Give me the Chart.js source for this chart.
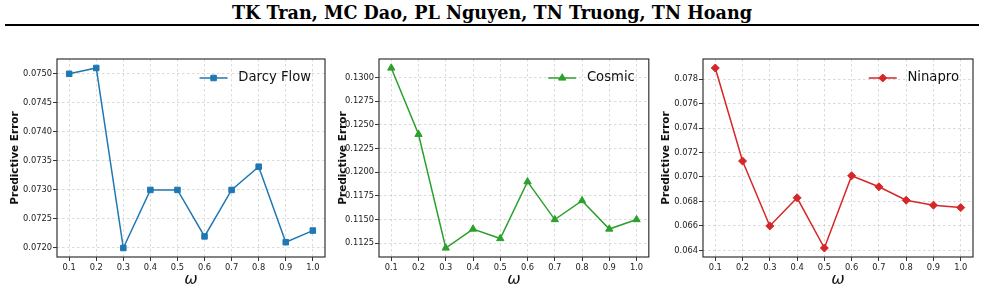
<!DOCTYPE html>
<html>
<head>
<meta charset="utf-8">
<script src="https://cdn.jsdelivr.net/npm/chart.js@4.4.1/dist/chart.umd.min.js"></script>
<style>
  body { margin: 0; width: 984px; height: 291px; background: #fff; position: relative; overflow: hidden; }
  #header { position: absolute; left: 0; top: 2px; width: 984px; text-align: center; font: bold 17.6px "DejaVu Serif"; color: #000; }
  #rule { position: absolute; left: 5px; top: 24px; width: 974px; height: 1.5px; background: #000; }
  canvas { position: absolute; top: 30px; }
</style>
</head>
<body>
<div id="header">TK Tran, MC Dao, PL Nguyen, TN Truong, TN Hoang</div>
<div id="rule"></div>
<canvas id="darcy" width="330" height="261" style="left:0px"></canvas>
<canvas id="cosmic" width="324" height="261" style="left:330px"></canvas>
<canvas id="ninapro" width="330" height="261" style="left:654px"></canvas>
<script>
// Data
const omega = [0.1, 0.2, 0.3, 0.4, 0.5, 0.6, 0.7, 0.8, 0.9, 1.0];
const darcyFlow = [0.0750, 0.0751, 0.0720, 0.0730, 0.0730, 0.0722, 0.0730, 0.0734, 0.0721, 0.0723];
const cosmic = [0.1310, 0.1240, 0.1120, 0.1140, 0.1130, 0.1190, 0.1150, 0.1170, 0.1140, 0.1150];
const ninapro = [0.0789, 0.0713, 0.0660, 0.0683, 0.0642, 0.0701, 0.0692, 0.0681, 0.0677, 0.0675];
const darcyTicks = [0.0720, 0.0725, 0.0730, 0.0735, 0.0740, 0.0745, 0.0750];
const cosmicTicks = [0.1125, 0.1150, 0.1175, 0.1200, 0.1225, 0.1250, 0.1275, 0.1300];
const ninaproTicks = [0.064, 0.066, 0.068, 0.070, 0.072, 0.074, 0.076, 0.078];

const gridColor = "rgba(176, 176, 176, 0.6)";
const inkColor = "#222";

// box round the plot, like matplotlib spines
const frame = {
  id: "frame",
  afterDraw(chart) {
    const { ctx, chartArea: a } = chart;
    ctx.save();
    ctx.strokeStyle = "#333";
    ctx.lineWidth = 1.2;
    ctx.strokeRect(a.left, a.top, a.right - a.left, a.bottom - a.top);
    ctx.restore();
  },
};

// legend in the upper right of the plot: line + marker, then the label
const insideLegend = {
  id: "insideLegend",
  afterDraw(chart) {
    const { ctx, chartArea: a } = chart;
    const ds = chart.data.datasets[0];
    ctx.save();
    ctx.font = '13.2px "DejaVu Sans"';
    const textRight = a.right - 14;
    const textLeft = textRight - ctx.measureText(ds.label).width;
    const cy = a.top + 19;
    const lineRight = textLeft - 10.7;
    const lineLeft = lineRight - 28;
    ctx.strokeStyle = ds.borderColor;
    ctx.fillStyle = ds.borderColor;
    ctx.lineWidth = ds.borderWidth;
    ctx.beginPath();
    ctx.moveTo(lineLeft, cy);
    ctx.lineTo(lineRight, cy);
    ctx.stroke();
    ctx.lineWidth = 1;
    Chart.helpers.drawPoint(ctx, { pointStyle: ds.pointStyle, radius: ds.pointRadius, rotation: 0, borderWidth: 1 }, (lineLeft + lineRight) / 2, cy);
    ctx.fillStyle = "#111";
    ctx.textAlign = "left";
    ctx.textBaseline = "middle";
    ctx.fillText(ds.label, textLeft, cy);
    ctx.restore();
  },
};

function padRange(values) {
  const lo = Math.min(...values);
  const hi = Math.max(...values);
  const m = (hi - lo) * 0.05;
  return [lo - m, hi + m];
}

function makeChart(id, label, values, color, style, radius, yTicks, decimals, yWidth, yTitlePad, rightPad) {
  const [xMin, xMax] = padRange(omega);
  const [yMin, yMax] = padRange(values);
  const config = {
    type: "line",
    data: {
      datasets: [
        {
          label: label,
          data: omega.map((w, i) => ({ x: w, y: values[i] })),
          borderColor: color,
          backgroundColor: color,
          borderWidth: 1.5,
          pointStyle: style,
          pointRadius: radius,
          pointBorderWidth: 1,
          pointBackgroundColor: color,
          pointBorderColor: color,
          tension: 0,
        },
      ],
    },
    options: {
      responsive: false,
      animation: false,
      events: [],
      layout: { padding: { top: 29, right: rightPad, left: 0, bottom: 0 } },
      scales: {
        x: {
          type: "linear",
          min: xMin,
          max: xMax,
          afterBuildTicks: (s) => { s.ticks = omega.map((v) => ({ value: v })); },
          afterFit: (s) => { s.height = 34; },
          ticks: {
            callback: (v) => v.toFixed(1),
            font: { family: "DejaVu Sans", size: 8.3 },
            color: inkColor,
            padding: 2,
            maxRotation: 0,
          },
          grid: { color: gridColor, lineWidth: 0.8, tickColor: "#333", tickLength: 4, tickWidth: 1, tickBorderDash: [] },
          border: { display: false, dash: [2.5, 2.5] },
          title: {
            display: true,
            text: "ω",
            font: { family: "DejaVu Sans", size: 16, style: "italic" },
            color: "#111",
            padding: { top: 0, bottom: 1.4 },
          },
        },
        y: {
          min: yMin,
          max: yMax,
          afterBuildTicks: (s) => { s.ticks = yTicks.map((v) => ({ value: v })); },
          afterFit: (s) => { s.width = yWidth; },
          ticks: {
            callback: (v) => v.toFixed(decimals),
            font: { family: "DejaVu Sans", size: 8.3 },
            color: inkColor,
            padding: 1,
          },
          grid: { color: gridColor, lineWidth: 0.8, tickColor: "#333", tickLength: 4, tickWidth: 1, tickBorderDash: [] },
          border: { display: false, dash: [2.5, 2.5] },
          title: {
            display: true,
            text: "Predictive Error",
            font: { family: "DejaVu Sans", size: 10.5, weight: "bold" },
            color: "#111",
            padding: { top: yTitlePad, bottom: 0 },
          },
        },
      },
      plugins: {
        legend: { display: false },
        tooltip: { enabled: false },
      },
    },
    plugins: [frame, insideLegend],
  };
  return new Chart(document.getElementById(id), config);
}

makeChart("darcy", "Darcy Flow", darcyFlow, "#1f77b4", "rect", 3.9, darcyTicks, 4, 57, 8.7, 2);
makeChart("cosmic", "Cosmic", cosmic, "#2ca02c", "triangle", 4.2, cosmicTicks, 4, 49, 6.7, 3);
makeChart("ninapro", "Ninapro", ninapro, "#d62728", "rectRot", 4, ninaproTicks, 3, 49, 5.7, 11);
</script>
</body>
</html>
